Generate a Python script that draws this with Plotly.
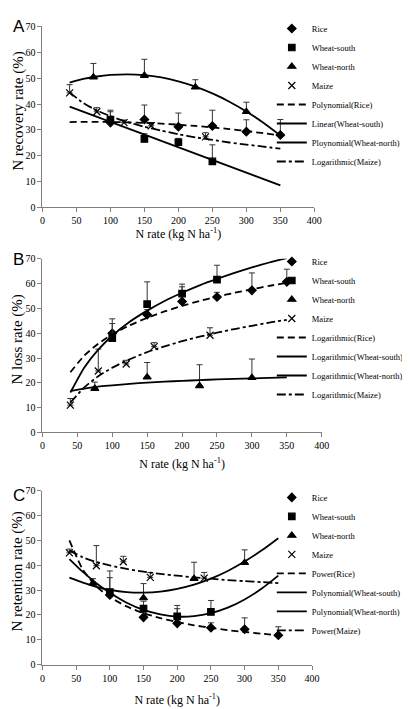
import plotly.graph_objects as go

# ---------------- data ----------------
tick_x = [0, 50, 100, 150, 200, 250, 300, 350, 400]
tick_y = [0, 10, 20, 30, 40, 50, 60, 70]
curve_x = [40, 60, 80, 100, 125, 150, 175, 200, 225, 250, 275, 300, 325, 350]

# Panel A : N recovery rate
a_rice_x = [100, 150, 200, 250, 300, 350]
a_rice_y = [32.8, 34.0, 31.2, 31.5, 29.3, 28.0]
a_rice_err = [4.2, 5.6, 5.3, 6.1, 4.6, 6.0]
a_ws_x = [100, 150, 200, 250]
a_ws_y = [34.0, 26.5, 25.2, 17.8]
a_ws_err = [3.6, 2.0, 1.5, 6.4]
a_wn_x = [75, 150, 225, 300]
a_wn_y = [50.4, 51.0, 46.5, 37.0]
a_wn_err = [5.3, 6.3, 2.9, 3.7]
a_mz_x = [40, 80, 120, 160, 240]
a_mz_y = [44.3, 37.0, 32.8, 31.6, 27.3]
a_mz_err = [3.2, 1.6, 1.0, 1.2, 1.6]
a_rice_fit = [33.0, 33.1, 33.1, 33.05, 32.9, 32.7, 32.4, 32.0, 31.5, 30.95, 30.3, 29.55, 28.7, 27.8]
a_ws_fit_x = [40, 350]
a_ws_fit = [39.0, 8.5]
a_wn_fit = [48.3, 49.7, 50.65, 51.25, 51.5, 51.2, 50.3, 48.8, 46.75, 44.1, 40.9, 37.1, 32.75, 27.8]
a_mz_fit = [44.5, 40.4, 37.5, 35.3, 33.0, 31.2, 29.7, 28.3, 27.1, 26.1, 25.1, 24.3, 23.5, 22.7]

# Panel B : N loss rate
b_rice_x = [100, 150, 200, 250, 300, 350]
b_rice_y = [40.0, 47.5, 52.8, 54.6, 57.3, 60.7]
b_rice_err = [3.9, 2.0, 5.9, 1.9, 7.0, 5.1]
b_ws_x = [100, 150, 200, 250]
b_ws_y = [38.0, 51.7, 56.0, 61.6]
b_ws_err = [7.8, 9.0, 3.8, 5.8]
b_wn_x = [75, 150, 225, 300]
b_wn_y = [17.7, 22.3, 18.8, 22.1]
b_wn_err = [2.6, 5.9, 8.5, 7.5]
b_mz_x = [40, 80, 120, 160, 240]
b_mz_y = [11.0, 24.8, 27.6, 34.6, 39.2]
b_mz_err = [2.7, 8.8, 1.5, 1.6, 3.0]
b_rice_fit = [24.3, 31.0, 35.8, 39.5, 43.2, 46.2, 48.8, 51.0, 53.0, 54.7, 56.3, 57.7, 59.1, 60.3]
b_ws_fit = [16.1, 26.2, 33.4, 39.0, 44.6, 49.1, 53.0, 56.3, 59.3, 61.9, 64.3, 66.5, 68.5, 70.3]
b_wn_fit = [16.7, 17.7, 18.5, 19.0, 19.6, 20.1, 20.5, 20.8, 21.1, 21.4, 21.6, 21.8, 22.0, 22.2]
b_mz_fit = [12.0, 18.2, 22.7, 26.1, 29.5, 32.4, 34.7, 36.8, 38.6, 40.2, 41.7, 43.0, 44.3, 45.4]

# Panel C : N retention rate
c_rice_x = [100, 150, 200, 250, 300, 350]
c_rice_y = [28.0, 19.0, 16.6, 14.8, 14.2, 11.8]
c_rice_err = [7.0, 2.0, 5.9, 2.0, 4.6, 3.4]
c_ws_x = [100, 150, 200, 250]
c_ws_y = [29.2, 22.5, 19.4, 21.2]
c_ws_err = [8.5, 3.0, 4.4, 4.6]
c_wn_x = [75, 150, 225, 300]
c_wn_y = [32.7, 26.8, 34.6, 41.0]
c_wn_err = [1.9, 5.8, 6.6, 5.2]
c_mz_x = [40, 80, 120, 160, 240]
c_mz_y = [45.0, 39.8, 41.4, 35.1, 34.8]
c_mz_err = [1.5, 8.1, 2.2, 2.0, 2.3]
c_rice_fit = [50.0, 38.2, 31.5, 27.2, 23.4, 20.7, 18.7, 17.1, 15.8, 14.8, 13.8, 13.1, 12.4, 11.8]
c_ws_fit = [42.5, 37.3, 32.75, 28.9, 24.9, 22.0, 20.2, 19.3, 19.5, 20.7, 22.9, 26.2, 30.5, 35.8]
c_wn_fit = [35.0, 33.0, 31.3, 30.1, 29.2, 29.0, 29.4, 30.5, 32.2, 34.6, 37.7, 41.5, 45.9, 50.9]
c_mz_fit = [46.0, 43.2, 41.3, 39.9, 38.5, 37.4, 36.5, 35.8, 35.1, 34.6, 34.0, 33.6, 33.2, 32.8]

panels = [
    dict(
        ax="", leg="legend", ytitle="N recovery rate (%)",
        pts=[("Rice", a_rice_x, a_rice_y, a_rice_err, "diamond", 6.5),
             ("Wheat-south", a_ws_x, a_ws_y, a_ws_err, "square", 6.5),
             ("Wheat-north", a_wn_x, a_wn_y, a_wn_err, "triangle-up", 7),
             ("Maize", a_mz_x, a_mz_y, a_mz_err, "x-thin-open", 7)],
        fits=[("Polynomial(Rice)", curve_x, a_rice_fit, "7px,4px"),
              ("Linear(Wheat-south)", a_ws_fit_x, a_ws_fit, "solid"),
              ("Ploynomial(Wheat-north)", curve_x, a_wn_fit, "solid"),
              ("Logarithmic(Maize)", curve_x, a_mz_fit, "dashdot")],
    ),
    dict(
        ax="2", leg="legend2", ytitle="N loss rate (%)",
        pts=[("Rice", b_rice_x, b_rice_y, b_rice_err, "diamond", 6.5),
             ("Wheat-south", b_ws_x, b_ws_y, b_ws_err, "square", 6.5),
             ("Wheat-north", b_wn_x, b_wn_y, b_wn_err, "triangle-up", 7),
             ("Maize", b_mz_x, b_mz_y, b_mz_err, "x-thin-open", 7)],
        fits=[("Logarithmic(Rice)", curve_x, b_rice_fit, "7px,4px"),
              ("Logarithmic(Wheat-south)", curve_x, b_ws_fit, "solid"),
              ("Logarithmic(Wheat-north)", curve_x, b_wn_fit, "solid"),
              ("Logarithmic(Maize)", curve_x, b_mz_fit, "dashdot")],
    ),
    dict(
        ax="3", leg="legend3", ytitle="N retention rate (%)",
        pts=[("Rice", c_rice_x, c_rice_y, c_rice_err, "diamond", 6.5),
             ("Wheat-south", c_ws_x, c_ws_y, c_ws_err, "square", 6.5),
             ("Wheat-north", c_wn_x, c_wn_y, c_wn_err, "triangle-up", 7),
             ("Maize", c_mz_x, c_mz_y, c_mz_err, "x-thin-open", 7)],
        fits=[("Power(Rice)", curve_x, c_rice_fit, "7px,4px"),
              ("Polynomial(Wheat-south)", curve_x, c_ws_fit, "solid"),
              ("Polynomial(Wheat-north)", curve_x, c_wn_fit, "solid"),
              ("Power(Maize)", curve_x, c_mz_fit, "dashdot")],
    ),
]

W, H = 410, 709
SERIF = "Liberation Serif"

fig = go.Figure()
for p in panels:
    xa, ya = "x" + p["ax"], "y" + p["ax"]
    for name, xs, ys, er, sym, sz in p["pts"]:
        fig.add_trace(go.Scatter(
            x=xs, y=ys, mode="markers", name=name, xaxis=xa, yaxis=ya, legend=p["leg"],
            marker=dict(symbol=sym, size=sz, color="black",
                        line=dict(color="black", width=1.2)),
            error_y=dict(type="data", symmetric=False, array=er, arrayminus=[0] * len(er),
                         color="#333333", thickness=1, width=3),
        ))
    for name, xs, ys, dash in p["fits"]:
        fig.add_trace(go.Scatter(
            x=xs, y=ys, mode="lines", name=name, xaxis=xa, yaxis=ya, legend=p["leg"],
            line=dict(color="black", width=1.8, dash=dash, shape="spline", smoothing=0.6),
        ))

def px_x(v):
    return v / W

def px_y(v):
    return 1 - v / H

# plot areas in pixels: (left, right, top, bottom)
boxes = [(32.3, 311.7, 12.7, 196.7), (32.3, 319.3, 249.0, 425.7), (32.3, 309.3, 485.0, 661.7)]
legend_tops = [0, 237, 477]
title_stand = [0, 9, 13]

axis_common = dict(showline=True, linecolor="#7f7f7f", linewidth=1, ticks="outside",
                   ticklen=4, tickcolor="#7f7f7f", showgrid=False, zeroline=False,
                   tickfont=dict(family=SERIF, size=10, color="black"))
layout = dict(width=W, height=H, margin=dict(l=0, r=0, t=0, b=0),
              paper_bgcolor="white", plot_bgcolor="white", showlegend=True,
              font=dict(family=SERIF, color="black"))
annotations = []
for i, (p, (l, r, t, b)) in enumerate(zip(panels, boxes)):
    sx = "xaxis" + p["ax"]
    sy = "yaxis" + p["ax"]
    layout[sx] = dict(axis_common, domain=[px_x(l), px_x(r)], range=[0, 400],
                      tickvals=tick_x, anchor="y" + p["ax"],
                      title=dict(text="N rate (kg N ha<sup>-1</sup>)",
                                 font=dict(family=SERIF, size=12), standoff=title_stand[i]))
    layout[sy] = dict(axis_common, domain=[px_y(b), px_y(t)], range=[0, 70],
                      tickvals=tick_y, anchor="x" + p["ax"])
    layout[p["leg"]] = dict(x=px_x(268), xanchor="left", y=px_y(legend_tops[i]), yanchor="top",
                            bgcolor="rgba(0,0,0,0)", borderwidth=0, tracegroupgap=0,
                            font=dict(family=SERIF, size=8.5, color="black"))
    annotations.append(dict(text="ABC"[i], xref="paper", yref="paper", x=0, xanchor="left",
                            y=px_y(legend_tops[i] + 1), yanchor="top", showarrow=False,
                            font=dict(family="Liberation Sans", size=17, color="black")))
    annotations.append(dict(text=p["ytitle"], xref="paper", yref="paper", x=px_x(7),
                            xanchor="center", y=px_y((t + b) / 2 - 6), yanchor="middle",
                            textangle=-90, showarrow=False,
                            font=dict(family=SERIF, size=15, color="black")))
layout["annotations"] = annotations
fig.update_layout(**layout)
fig.write_html("out.html")
